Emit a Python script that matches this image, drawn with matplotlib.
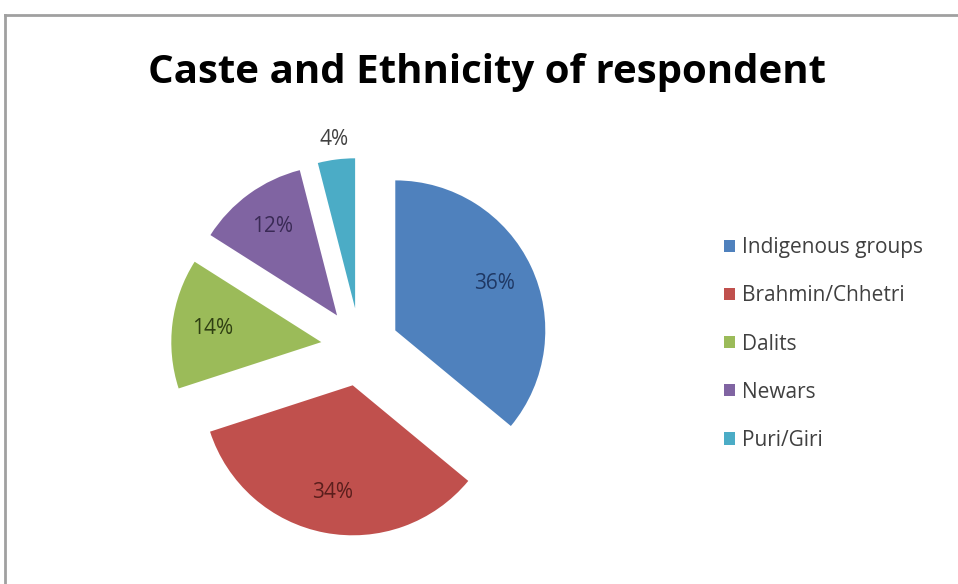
import matplotlib
matplotlib.use("Agg")
import matplotlib.pyplot as plt
from matplotlib.lines import Line2D

# 数据
groups = ["Indigenous groups", "Brahmin/Chhetri", "Dalits", "Newars", "Puri/Giri"]
shares = [36, 34, 14, 12, 4]
colors = ["#4F81BD", "#C0504D", "#9BBB59", "#8064A2", "#4BACC6"]
label_colors = ["#1F3864", "#5A1E1C", "#2F3F12", "#3A2A55", "#404040"]

plt.rcParams['font.family'] = ['Open Sans', 'DejaVu Sans']

fig = plt.figure(figsize=(9.58, 5.84), dpi=100)
W, H = 958, 584

# 饼图所在坐标轴（正方形像素区域）
ax = fig.add_axes([135 / W, 12 / H, 450 / W, 450 / H])
wedges, texts, autotexts = ax.pie(
    shares,
    colors=colors,
    startangle=90,
    counterclock=False,
    explode=[0.26] * len(shares),
    autopct='%d%%',
    pctdistance=0.73,
    textprops={'fontsize': 15},
    wedgeprops={'linewidth': 0},
)
ax.set_xlim(-1.5, 1.5)
ax.set_ylim(-1.5, 1.5)
ax.set_aspect('equal')
ax.axis('off')

for t, c in zip(autotexts, label_colors):
    t.set_color(c)

# 小扇区标签放到外面
x, y = autotexts[-1].get_position()
cx, cy = wedges[-1].center
autotexts[-1].set_position((cx + (x - cx) * 1.55, cy + (y - cy) * 1.55))

# 标题
fig.text(487 / W, 1 - 72 / H, "Caste and Ethnicity of respondent",
         ha='center', va='center', fontsize=29, fontweight='bold',
         color='black')

# 图例
leg = fig.legend(wedges, groups, loc='center left',
                 bbox_to_anchor=(705 / W, 1 - 344 / H), frameon=False,
                 fontsize=15, handlelength=0.55, handleheight=0.55,
                 handletextpad=0.35, labelspacing=1.3)
for t in leg.get_texts():
    t.set_color('#404040')

# 边框
fig.add_artist(Line2D([5 / W, 5 / W], [0, 1 - 15 / H], color='#A0A0A0', lw=2,
                      transform=fig.transFigure))
fig.add_artist(Line2D([5 / W, 1], [1 - 15 / H, 1 - 15 / H], color='#A0A0A0',
                      lw=2, transform=fig.transFigure))

plt.savefig('out.png', dpi=100)
plt.close()
